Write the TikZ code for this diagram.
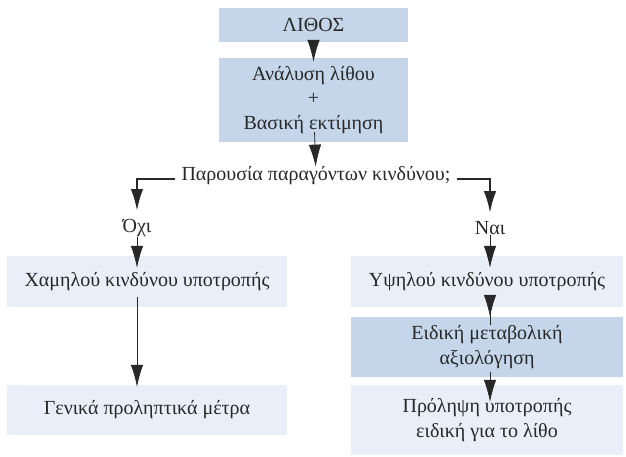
\documentclass[tikz,border=0pt]{standalone}
\usepackage{fontspec}
\setmainfont{Liberation Serif}
\usetikzlibrary{arrows.meta}

\definecolor{stonedark}{RGB}{197,214,234}
\definecolor{stonelight}{RGB}{233,239,248}
\definecolor{inkgray}{RGB}{40,40,40}

\tikzset{
  darkbox/.style={fill=stonedark, align=center, inner sep=0pt},
  lightbox/.style={fill=stonelight, align=center, inner sep=0pt},
  plain/.style={align=center, inner sep=0pt},
  arr/.style={-{Latex[length=22pt,width=12.5pt]}, line width=0.8pt, inkgray},
  branch/.style={arr, line width=2.6pt}
}

\begin{document}
\begin{tikzpicture}[x=1pt,y=-1pt,font=\fontsize{20}{24.5}\selectfont,text=inkgray]
  \useasboundingbox (0,0) rectangle (626,456);
  % top column
  \node[darkbox, minimum width=189pt, minimum height=34pt] (lithos) at (313.5,24.5) {ΛΙΘΟΣ};
  \node[darkbox, minimum width=189pt, minimum height=84pt] (analysis) at (313.5,100) {Ανάλυση λίθου\\+\\Βασική εκτίμηση};
  \node[plain, inner xsep=6pt] (question) at (316,176) {Παρουσία παραγόντων κινδύνου;};
  \node[plain] (noNode) at (137,228) {Όχι};
  \node[plain] (yesNode) at (490,228) {Ναι};
  % left column
  \node[lightbox, minimum width=280pt, minimum height=51pt] (low) at (147,281.5) {Χαμηλού κινδύνου υποτροπής};
  \node[lightbox, minimum width=280pt, minimum height=50pt] (general) at (147,410) {Γενικά προληπτικά μέτρα};
  % right column
  \node[lightbox, minimum width=272pt, minimum height=51pt] (high) at (487,281.5) {Υψηλού κινδύνου υποτροπής};
  \node[darkbox, minimum width=272pt, minimum height=60pt] (meta) at (487,347) {Ειδική μεταβολική\\αξιολόγηση};
  \node[lightbox, minimum width=272pt, minimum height=70pt] (prevent) at (487,420) {Πρόληψη υποτροπής\\ειδική για το λίθο};

  \draw[arr, shorten <=-6pt, shorten >=-4pt] (lithos) -- (analysis);
  \draw[arr, shorten <=-10pt] (analysis) -- (question);
  \draw[branch] ([yshift=-3pt]question.west) -| ([yshift=8pt]noNode.north);
  \draw[branch] ([yshift=-3pt]question.east) -| ([yshift=8pt]yesNode.north);

  \draw[arr, shorten >=-12pt] (noNode) -- (noNode |- low.north);
  \draw[arr, shorten <=-10pt, shorten >=-2pt] (noNode |- low.south) -- (noNode |- general.north);

  \draw[arr, shorten >=-12pt] (yesNode) -- (yesNode |- high.north);
  \draw[arr, shorten <=-18pt] (yesNode |- high.south) -- (yesNode |- meta.north);
  \draw[arr, shorten <=-5pt, shorten >=-17pt] (yesNode |- meta.south) -- (yesNode |- prevent.north);
\end{tikzpicture}
\end{document}
